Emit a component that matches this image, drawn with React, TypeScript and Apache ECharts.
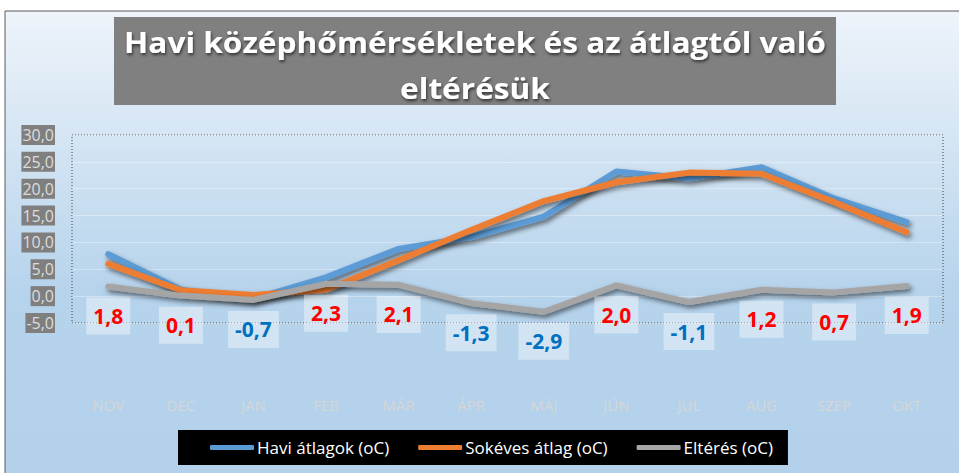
import React, { useEffect, useRef } from "react";
import * as echarts from "echarts";

const categories = ["NOV", "DEC", "JAN", "FEB", "MÁR", "ÁPR", "MÁJ", "JÚN", "JÚL", "AUG", "SZEP", "OKT"];
const haviAtlagok = [7.8, 1.2, -0.5, 3.5, 8.8, 11.0, 14.8, 23.2, 21.9, 24.0, 18.2, 13.8];
const sokevesAtlag = [6.0, 1.1, 0.2, 1.2, 6.7, 12.3, 17.7, 21.2, 23.0, 22.8, 17.5, 11.9];
const elteres = [1.8, 0.1, -0.7, 2.3, 2.1, -1.3, -2.9, 2.0, -1.1, 1.2, 0.7, 1.9];
const seriesNames = ["Havi átlagok (oC)", "Sokéves átlag (oC)", "Eltérés (oC)"];
const titleLines = ["Havi középhőmérsékletek és az átlagtól való", "eltérésük"];
const yMin = -5;
const yMax = 30;
const yStep = 5;

const FONT = "'Open Sans', 'DejaVu Sans', sans-serif";
const fmt = (v: number) => v.toFixed(1).replace(".", ",");

const shadow = {
  shadowColor: "rgba(0,0,0,0.55)",
  shadowBlur: 5,
  shadowOffsetX: 2,
  shadowOffsetY: 3,
};

export default function App() {
  const ref = useRef<HTMLDivElement>(null);
  useEffect(() => {
    if (!ref.current) return;
    const chart = echarts.init(ref.current, null, { renderer: "svg" });
    const gridLeft = 72, gridRight = 16, gridTop = 135, gridBottom = 150;
    const W = 959, H = 473;
    const option: any = {
      animation: false,
      backgroundColor: "#ffffff",
      textStyle: { fontFamily: FONT },
      graphic: [
        {
          type: "rect",
          z: -100,
          silent: true,
          shape: { x: 5, y: 11, width: 960, height: 470 },
          style: {
            fill: {
              type: "linear", x: 0, y: 0, x2: 0, y2: 1,
              colorStops: [
                { offset: 0, color: "#eef4fa" },
                { offset: 0.6, color: "#b6d3ec" },
                { offset: 1, color: "#b3d1eb" },
              ],
            },
            stroke: "#5a5a5a",
            lineWidth: 1,
          },
        },
        {
          type: "rect",
          z: -50,
          silent: true,
          shape: { x: gridLeft, y: gridTop, width: W - gridLeft - gridRight, height: H - gridTop - gridBottom },
          style: { fill: "none", stroke: "#404040", lineWidth: 1, lineDash: [1, 2] },
        },
        {
          type: "rect",
          z: 10,
          silent: true,
          shape: { x: 114, y: 17, width: 722, height: 88 },
          style: { fill: "#808080" },
        },
        {
          type: "text",
          z: 11,
          silent: true,
          x: 475,
          y: 65,
          scaleX: 1.13,
          style: {
            text: titleLines.join("\n"),
            fill: "#ffffff",
            font: `bold 28px ${FONT}`,
            align: "center",
            verticalAlign: "middle",
            lineHeight: 46,
            textShadowColor: "rgba(0,0,0,0.6)",
            textShadowBlur: 3,
            textShadowOffsetX: 1,
            textShadowOffsetY: 2,
          },
        },
      ],
      grid: { left: gridLeft, right: gridRight, top: gridTop, bottom: gridBottom, containLabel: false },
      legend: {
        data: seriesNames,
        left: 178,
        top: 430,
        backgroundColor: "#000000",
        padding: [9, 15, 9, 32],
        icon: "roundRect",
        itemWidth: 44,
        itemHeight: 5,
        itemGap: 29,
        textStyle: { color: "#ffffff", fontSize: 17, fontFamily: FONT, padding: [0, 0, 0, -2] },
      },
      xAxis: {
        type: "category",
        data: categories,
        boundaryGap: true,
        axisLine: { show: false },
        axisTick: { show: false },
        axisLabel: { color: "#d6d6d6", fontSize: 15, margin: 74, fontFamily: FONT },
      },
      yAxis: {
        type: "value",
        min: yMin,
        max: yMax,
        interval: yStep,
        axisLine: { show: false },
        axisTick: { show: false },
        splitLine: { lineStyle: { color: "rgba(255,255,255,0.35)", width: 1 } },
        axisLabel: {
          formatter: (v: number) => fmt(v),
          color: "#dcdcdc",
          fontSize: 16,
          lineHeight: 19,
          margin: 17,
          backgroundColor: "#7f7f7f",
          padding: [1, 1, 0, 1],
          fontFamily: FONT,
        },
      },
      series: [
        {
          name: seriesNames[0],
          type: "line",
          data: haviAtlagok,
          showSymbol: false,
          symbol: "none",
          color: "#5b9bd5",
          lineStyle: { width: 6, color: "#5b9bd5", cap: "round", join: "round", ...shadow },
          z: 2,
        },
        {
          name: seriesNames[1],
          type: "line",
          data: sokevesAtlag,
          showSymbol: false,
          symbol: "none",
          color: "#ed7d31",
          lineStyle: { width: 6, color: "#ed7d31", cap: "round", join: "round", ...shadow },
          z: 3,
        },
        {
          name: seriesNames[2],
          type: "line",
          data: elteres.map((v) => ({
            value: v,
            label: { color: v >= 0 ? "#ff0000" : "#0070c0" },
          })),
          showSymbol: true,
          symbol: "circle",
          symbolSize: 0.1,
          color: "#a5a5a5",
          lineStyle: { width: 6, color: "#a5a5a5", cap: "round", join: "round", ...shadow },
          label: {
            show: true,
            position: "bottom",
            distance: 11,
            formatter: (p: any) => fmt(p.value),
            fontSize: 21,
            fontWeight: "bold",
            fontFamily: FONT,
            backgroundColor: "rgba(255,255,255,0.4)",
            padding: [6, 7, 6, 7],
            lineHeight: 25,
          },
          z: 4,
        },
      ],
    };
    chart.setOption(option);
    return () => chart.dispose();
  }, []);
  return <div ref={ref} style={{ position: "absolute", left: 0, top: 0, width: 959, height: 473 }} />;
}
